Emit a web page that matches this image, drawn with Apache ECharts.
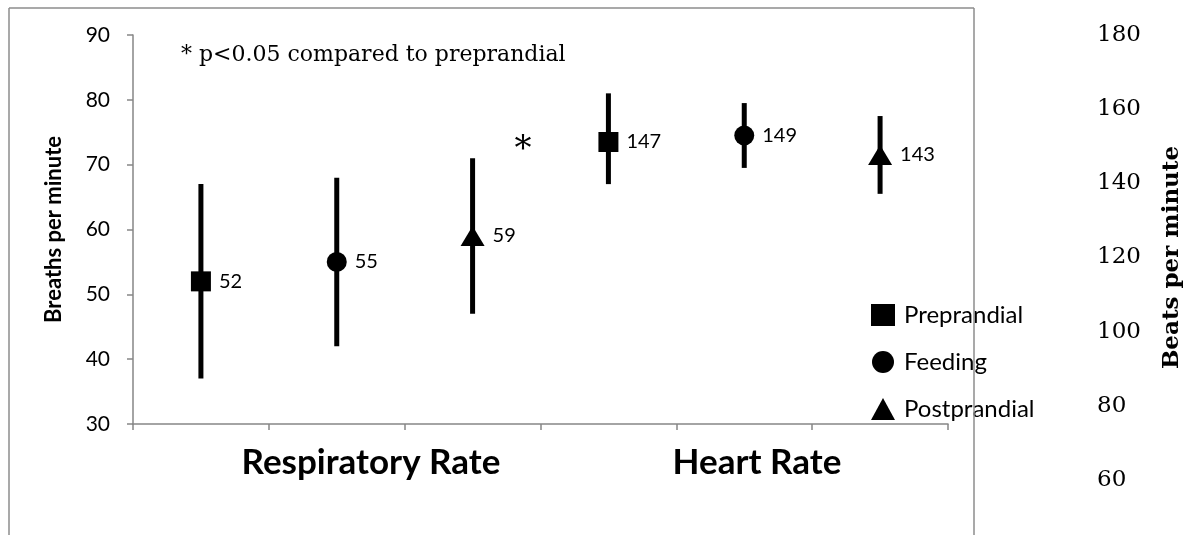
<!DOCTYPE html>
<html>
<head>
<meta charset="utf-8">
<script src="https://cdn.jsdelivr.net/npm/echarts@6/dist/echarts.min.js"></script>
<style>
	html, body { margin: 0; padding: 0; background: #fff; }
	#chart { width: 1192px; height: 535px; }
</style>
</head>
<body>
<div id="chart"></div>
<script type="text/javascript">
	// 6 slots: RR pre/feed/post, HR pre/feed/post
	var slots = ['rr_pre', 'rr_feed', 'rr_post', 'hr_pre', 'hr_feed', 'hr_post'];
	var groups = ['Preprandial', 'Feeding', 'Postprandial'];
	var symbols = ['rect', 'circle', 'triangle'];

	// breaths per minute (left axis)
	var rrMean = [52, 55, 59];
	var rrLow = [37, 42, 47];
	var rrHigh = [67, 68, 71];

	// beats per minute
	var hrMean = [147, 149, 143];
	var hrLow = [134, 139, 131];
	var hrHigh = [162, 159, 155];

	var leftTicks = [30, 90, 10];
	var rightTicks = [60, 180, 20];

	var myChart = echarts.init(document.getElementById('chart'));

	var sans = 'Lato';
	var serif = 'DejaVu Serif';

	function errBar(params, api) {
		var x = api.value(0);
		var p1 = api.coord([x, api.value(1)]);
		var p2 = api.coord([x, api.value(2)]);
		return {
			type: 'line',
			shape: { x1: p1[0], y1: p1[1], x2: p2[0], y2: p2[1] },
			style: { stroke: '#000', lineWidth: 5 }
		};
	}

	var series = [];
	series.push({
		type: 'custom', xAxisIndex: 0, yAxisIndex: 0, z: 1,
		renderItem: errBar,
		data: rrMean.map(function (v, i) { return [i, rrLow[i], rrHigh[i]]; })
	});
	series.push({
		type: 'custom', xAxisIndex: 0, yAxisIndex: 1, z: 1,
		renderItem: errBar,
		data: hrMean.map(function (v, i) { return [i + 3, hrLow[i], hrHigh[i]]; })
	});
	groups.forEach(function (g, i) {
		var lbl = {
			show: true, position: 'right', distance: 8,
			color: '#000', fontFamily: sans, fontSize: 20,
			formatter: function (p) { return p.value[1]; }
		};
		var size = i == 2 ? [24, 20] : 20;
		series.push({
			name: g, type: 'scatter', xAxisIndex: 0, yAxisIndex: 0, z: 3,
			symbol: symbols[i], symbolSize: size,
			itemStyle: { color: '#000', opacity: 1 },
			label: lbl,
			data: [[i, rrMean[i]]]
		});
		series.push({
			name: g, type: 'scatter', xAxisIndex: 0, yAxisIndex: 1, z: 3,
			symbol: symbols[i], symbolSize: size,
			itemStyle: { color: '#000', opacity: 1 },
			label: lbl,
			data: [[i + 3, hrMean[i]]]
		});
	});

	var option = {
		animation: false,
		grid: [
			{ left: 133, top: 35, width: 815, height: 389 },
			{ left: 133, top: 35, right: 100, height: 445 }
		],
		legend: {
			orient: 'vertical', left: 866, top: 298,
			itemWidth: 24, itemHeight: 22, itemGap: 23,
			data: groups.map(function (g, i) { return { name: g, icon: symbols[i] }; }),
			textStyle: { fontFamily: sans, fontSize: 24, lineHeight: 22, color: '#000', padding: [0, 0, 0, 4] },
			itemStyle: { color: '#000', opacity: 1 }
		},
		xAxis: [
			{
				gridIndex: 0, type: 'category', data: slots, boundaryGap: true,
				axisLine: { lineStyle: { color: '#868686', width: 1.5 } },
				axisTick: { show: true, length: 6, lineStyle: { color: '#868686', width: 1.5 } },
				axisLabel: { show: false }
			},
			{ gridIndex: 1, type: 'value', show: false }
		],
		yAxis: [
			{
				gridIndex: 0, type: 'value', min: leftTicks[0], max: leftTicks[1], interval: leftTicks[2],
				name: 'Breaths per minute', nameLocation: 'middle', nameRotate: 90, nameGap: 68,
				nameTextStyle: { fontFamily: sans, fontWeight: 'bold', fontSize: 22, color: '#000' },
				axisLine: { show: true, lineStyle: { color: '#868686', width: 1.5 } },
				axisTick: { show: true, length: 6, lineStyle: { color: '#868686', width: 1.5 } },
				axisLabel: { fontFamily: sans, fontSize: 21, color: '#000', margin: 23 },
				splitLine: { show: false }
			},
			{
				gridIndex: 0, type: 'value', min: rightTicks[0], max: rightTicks[1], show: false
			},
			{
				gridIndex: 1, type: 'value', position: 'right',
				min: rightTicks[0], max: rightTicks[1], interval: rightTicks[2],
				name: 'Beats per minute', nameLocation: 'middle', nameRotate: 90, nameGap: 72,
				nameTextStyle: { fontFamily: serif, fontWeight: 'bold', fontSize: 23, color: '#000' },
				axisLine: { show: false },
				axisTick: { show: false },
				axisLabel: { fontFamily: serif, fontSize: 23, color: '#000', margin: 8 },
				splitLine: { show: false }
			}
		],
		graphic: [
			{ type: 'line', shape: { x1: 9, y1: 8, x2: 974, y2: 8 }, style: { stroke: '#8c8c8c', lineWidth: 1.5 } },
			{ type: 'line', shape: { x1: 9, y1: 8, x2: 9, y2: 535 }, style: { stroke: '#8c8c8c', lineWidth: 1.5 } },
			{ type: 'line', shape: { x1: 974, y1: 8, x2: 974, y2: 535 }, style: { stroke: '#8c8c8c', lineWidth: 1.5 }, z: 100 },
			{ type: 'text', left: 181, top: 44, style: { text: '* p<0.05 compared to preprandial', font: '22px "DejaVu Serif"', fill: '#000' } },
			{ type: 'text', x: 523, y: 150, style: { text: '*', font: '34px "DejaVu Serif"', fill: '#000', align: 'center', verticalAlign: 'middle' } },
			{ type: 'text', x: 371, y: 463, style: { text: 'Respiratory Rate', font: 'bold 35px Lato', fill: '#000', align: 'center', verticalAlign: 'middle' } },
			{ type: 'text', x: 757, y: 463, style: { text: 'Heart Rate', font: 'bold 35px Lato', fill: '#000', align: 'center', verticalAlign: 'middle' } }
		],
		series: series
	};
	myChart.setOption(option);
</script>
</body>
</html>
